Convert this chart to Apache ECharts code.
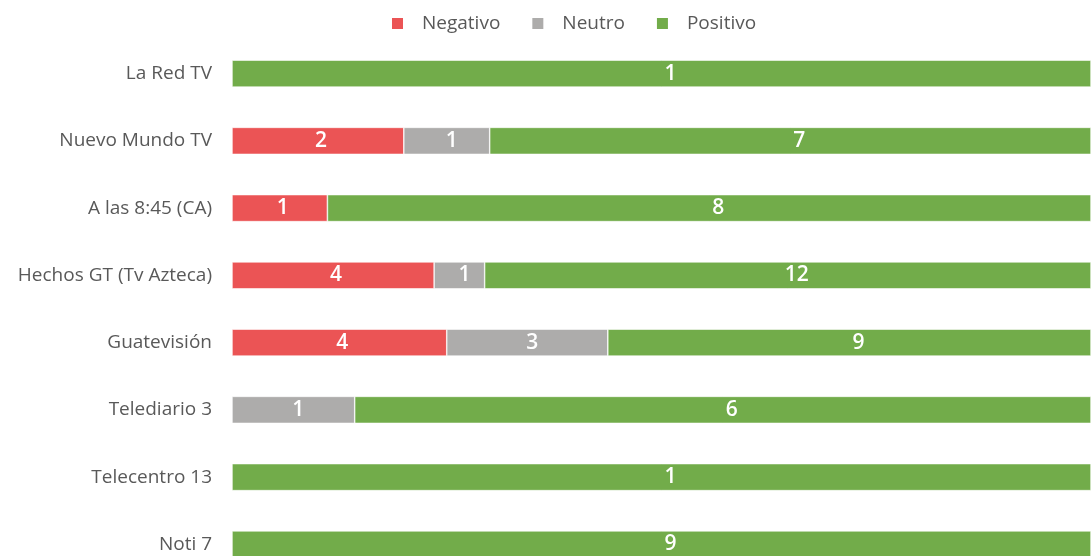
<!DOCTYPE html>
<html>
<head>
<meta charset="utf-8">
<script src="https://cdn.jsdelivr.net/npm/echarts@6/dist/echarts.min.js"></script>
<style>
  html, body { margin: 0; padding: 0; background: #fff; }
  #chart { width: 1091px; height: 556px; }
</style>
</head>
<body>
<div id="chart"></div>
<script>
// medios, de arriba hacia abajo
const medios = ['La Red TV', 'Nuevo Mundo TV', 'A las 8:45 (CA)', 'Hechos GT (Tv Azteca)',
  'Guatevisión', 'Telediario 3', 'Telecentro 13', 'Noti 7'];
const negativo = [0, 2, 1, 4, 4, 0, 0, 0];
const neutro   = [0, 1, 0, 1, 3, 1, 0, 0];
const positivo = [1, 7, 8, 12, 9, 6, 1, 9];

const totales = medios.map((m, i) => negativo[i] + neutro[i] + positivo[i]);

function serie(nombre, valores, color, dx) {
  return {
    name: nombre,
    type: 'bar',
    stack: 'total',
    barWidth: 27,
    itemStyle: { color: color, borderColor: '#fff', borderWidth: 0.6 },
    label: {
      show: true,
      position: 'inside',
      offset: [dx, 0],
      color: '#fff',
      fontSize: 21,
      fontWeight: 600,
      fontFamily: 'Open Sans',
      formatter: p => valores[p.dataIndex] > 0 ? String(valores[p.dataIndex]) : ''
    },
    data: valores.map((v, i) => v / totales[i] * 100)
  };
}

const chart = echarts.init(document.getElementById('chart'));
chart.setOption({
  animation: false,
  backgroundColor: '#fff',
  textStyle: { fontFamily: 'Open Sans' },
  legend: {
    top: 9,
    left: 385,
    itemWidth: 13,
    itemHeight: 13,
    itemGap: 30,
    icon: 'rect',
    textStyle: { color: '#595959', fontSize: 19, padding: [0, 0, 0, 13] },
    data: ['Negativo', 'Neutro', 'Positivo']
  },
  grid: { left: 232, right: 0, top: 40, bottom: -22, outerBoundsMode: 'none' },
  xAxis: {
    type: 'value',
    min: 0,
    max: 100,
    show: false
  },
  yAxis: {
    type: 'category',
    inverse: true,
    data: medios,
    axisLine: { show: false },
    axisTick: { show: false },
    axisLabel: { color: '#595959', fontSize: 19, margin: 20 }
  },
  series: [
    serie('Negativo', negativo, '#EB5455', 3),
    serie('Neutro', neutro, '#ADACAB', 5),
    serie('Positivo', positivo, '#72AC4A', 9)
  ]
});
</script>
</body>
</html>
